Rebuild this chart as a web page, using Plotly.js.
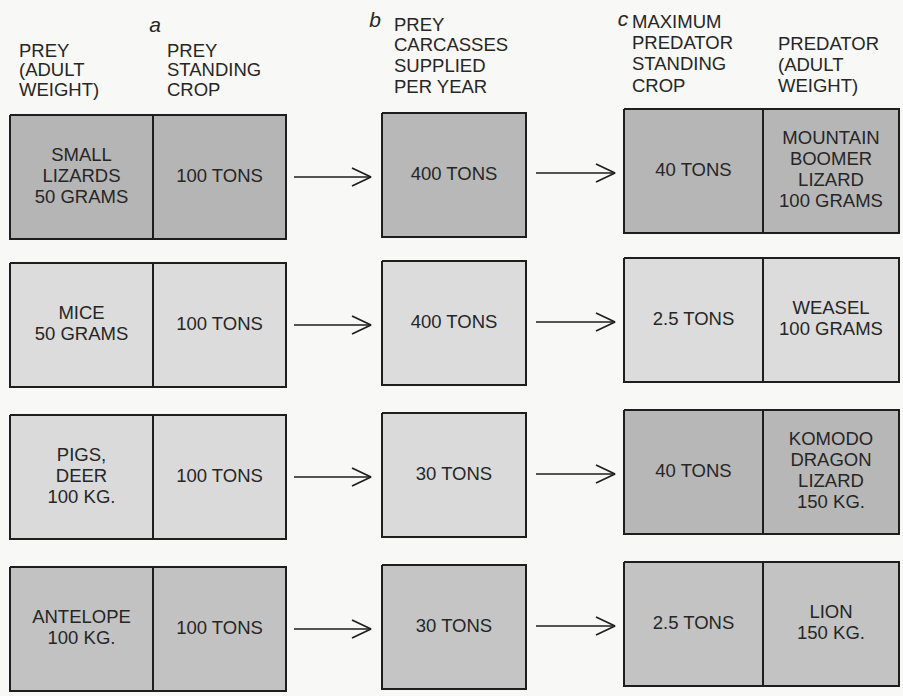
<!DOCTYPE html>
<html>
<head>
<meta charset="utf-8">
<script src="https://cdn.plot.ly/plotly-3.0.1.min.js"></script>
<style>html,body{margin:0;padding:0;background:#f8f8f6;}#chart{width:903px;height:696px;}</style>
</head>
<body>
<div id="chart"></div>
<script>
// ---- data ----
const preyAnimal = ["SMALL<br>LIZARDS<br>50 GRAMS", "MICE<br>50 GRAMS", "PIGS,<br>DEER<br>100 KG.", "ANTELOPE<br>100 KG."];
const preyCropTons = [100, 100, 100, 100];
const carcassTons = [400, 400, 30, 30];
const predatorCropTons = [40, 2.5, 40, 2.5];
const predatorAnimal = ["MOUNTAIN<br>BOOMER<br>LIZARD<br>100 GRAMS", "WEASEL<br>100 GRAMS", "KOMODO<br>DRAGON<br>LIZARD<br>150 KG.", "LION<br>150 KG."];
const columnHeaders = ["PREY<br>(ADULT<br>WEIGHT)", "PREY<br>STANDING<br>CROP", "PREY<br>CARCASSES<br>SUPPLIED<br>PER YEAR", "MAXIMUM<br>PREDATOR<br>STANDING<br>CROP", "PREDATOR<br>(ADULT<br>WEIGHT)"];
const panelLetters = ["a", "b", "c"];

// ---- styling / layout constants ----
const shadeLeft  = ["#b5b5b5", "#dcdcdc", "#dadada", "#c2c2c2"];
const shadeMid   = ["#b8b8b8", "#dcdcdc", "#dadada", "#c5c5c5"];
const shadeRight = ["#b6b6b6", "#dcdcdc", "#b7b7b7", "#c3c3c3"];
const L = {x0: 10, x1: 286, div: 153};
const M = {x0: 382, x1: 526};
const R = {x0: 624, x1: 899, div: 763};
const topL = [115, 263, 415, 567];
const topM = [113, 261, 413, 565];
const topR = [109, 258, 410, 562];
const H = 124;
const FONT = "Liberation Sans, Arial, sans-serif";
const INK = "#262626";
const LH = 21;

const fmt = v => v + " TONS";
const traces = [];

function box(x0, x1, y0, y1, fill) {
  traces.push({type: "scatter", mode: "lines", x: [x0, x1, x1, x0, x0], y: [y0, y0, y1, y1, y0],
    fill: "toself", fillcolor: fill, line: {color: "#1e1e1e", width: 2}, hoverinfo: "skip"});
}
function arrow(xa, xb, y) {
  traces.push({type: "scatter", mode: "lines", x: [xa, xb, null, xb - 19, xb, xb - 19], y: [y, y, null, y - 9, y, y + 9],
    line: {color: "#1e1e1e", width: 1.7}, hoverinfo: "skip"});
}
const tx = [], ty = [], tt = [];
function centered(text, cx, cy) {
  const lines = text.split("<br>");
  lines.forEach((s, i) => { tx.push(cx); ty.push(cy + (i - (lines.length - 1) / 2) * LH); tt.push(s); });
}
const hx = [], hy = [], ht = [];
function leftText(text, x, y0, step) {
  text.split("<br>").forEach((s, i) => { hx.push(x); hy.push(y0 + i * step); ht.push(s); });
}

for (let r = 0; r < 4; r++) {
  box(L.x0, L.div, topL[r], topL[r] + H, shadeLeft[r]);
  box(L.div, L.x1, topL[r], topL[r] + H, shadeLeft[r]);
  box(M.x0, M.x1, topM[r], topM[r] + H, shadeMid[r]);
  box(R.x0, R.div, topR[r], topR[r] + H, shadeRight[r]);
  box(R.div, R.x1, topR[r], topR[r] + H, shadeRight[r]);
  arrow(294, 371, topL[r] + H / 2);
  arrow(536, 615, topR[r] + H / 2 + 2);
  centered(preyAnimal[r], (L.x0 + L.div) / 2, topL[r] + H / 2);
  centered(fmt(preyCropTons[r]), (L.div + L.x1) / 2, topL[r] + H / 2);
  centered(fmt(carcassTons[r]), (M.x0 + M.x1) / 2, topM[r] + H / 2);
  centered(fmt(predatorCropTons[r]), (R.x0 + R.div) / 2, topR[r] + H / 2);
  centered(predatorAnimal[r], (R.div + R.x1) / 2, topR[r] + H / 2);
}

leftText(columnHeaders[0], 19, 52, 19.5);
leftText(columnHeaders[1], 167, 52, 19.5);
leftText(columnHeaders[2], 394, 26, 20.7);
leftText(columnHeaders[3], 632, 23, 21.3);
leftText(columnHeaders[4], 778, 45, 21);

traces.push({type: "scatter", mode: "text", x: tx, y: ty, text: tt, textposition: "middle center",
  textfont: {family: FONT, size: 18.5, color: INK}, hoverinfo: "skip"});
traces.push({type: "scatter", mode: "text", x: hx, y: hy, text: ht, textposition: "middle right",
  marker: {size: 0}, textfont: {family: FONT, size: 18.5, color: INK}, hoverinfo: "skip"});
traces.push({type: "scatter", mode: "text", x: [155, 375, 623], y: [27, 22, 21],
  text: panelLetters.map(s => "<i>" + s + "</i>"), textposition: "middle center",
  textfont: {family: FONT, size: 21, color: INK}, hoverinfo: "skip"});

const layout = {
  width: 903, height: 696,
  margin: {l: 0, r: 0, t: 0, b: 0},
  paper_bgcolor: "#f8f8f6", plot_bgcolor: "#f8f8f6",
  showlegend: false, hovermode: false,
  xaxis: {range: [0, 903], visible: false, fixedrange: true},
  yaxis: {range: [696, 0], visible: false, fixedrange: true}
};
Plotly.newPlot("chart", traces, layout, {staticPlot: true, displayModeBar: false});
</script>
</body>
</html>
